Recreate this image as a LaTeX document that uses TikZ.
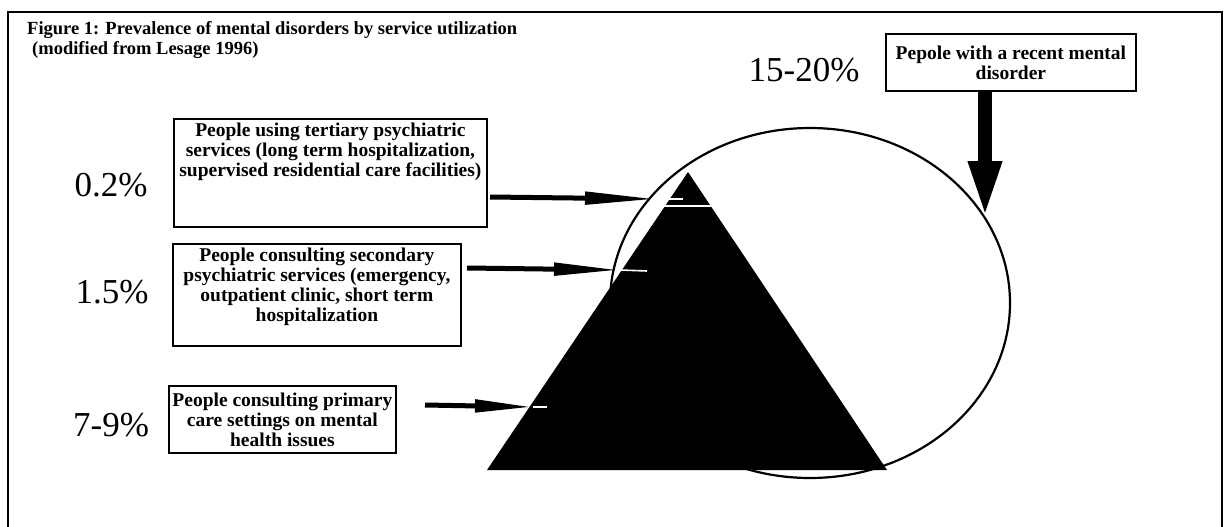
\documentclass[tikz,border=0pt]{standalone}
\usepackage{fontspec}
\setmainfont{Liberation Serif}
\usetikzlibrary{arrows.meta,shapes.geometric}
\begin{document}
\begin{tikzpicture}[x=1pt,y=-1pt,
  box/.style={draw, line width=1.8pt, rectangle, inner sep=0pt},
  boxtext/.style={align=center, inner sep=0pt,
    font=\fontsize{19.5}{20}\selectfont\bfseries},
  pct/.style={inner sep=0pt, font=\fontsize{35}{40}\selectfont},
  titletext/.style={anchor=base west, inner sep=0pt,
    font=\fontsize{18.5}{22}\selectfont\bfseries},
  pointer/.style={line width=5pt, line cap=butt},
  gapline/.style={white, line width=1.6pt},
]
\useasboundingbox (0,0) rectangle (1226,527);
\clip (0,0) rectangle (1226,527);

% outer frame (open at the bottom)
\draw[line width=2pt] (8,560) -- (8,12) -- (1222,12) -- (1222,560);

% heading
\node[titletext] (title1) at (27,35)
  {Figure 1: Prevalence of mental disorders by service utilization};
\node[titletext] (title2) at (32,55) {(modified from Lesage 1996)};

% population circle
\node[ellipse, draw, line width=2.2pt, inner sep=0pt,
      minimum width=400pt, minimum height=350pt] (pool) at (810,303) {};

% service pyramid
\fill (688,172) -- (887,470) -- (487,470) -- cycle;
\draw[gapline, line width=2.4pt] (660,206) -- (716,206);

% arrow end points
\coordinate (s1) at (490,197);  \coordinate (t1) at (657,199);
\coordinate (s2) at (467,268);  \coordinate (t2) at (620,270);
\coordinate (s3) at (425,405);  \coordinate (t3) at (533,407);
\coordinate (s4) at (985,90);   \coordinate (t4) at (985,219);

% thin traces of the pointers inside the pyramid
\draw[gapline] (t1) -- (683,199);
\draw[gapline] (t2) -- (647,271);
\draw[gapline] (t3) -- (547,407);

% label boxes
\node[box, anchor=north west, minimum width=313pt, minimum height=108pt]
  (b1) at (173,118) {};
\node[boxtext, anchor=north] (b1t) at ([yshift=-5pt]b1.north)
  {People using tertiary psychiatric\\services (long term hospitalization,\\supervised residential care facilities)};

\node[box, anchor=north west, minimum width=288pt, minimum height=102pt]
  (b2) at (172,243) {};
\node[boxtext, anchor=north] (b2t) at ([yshift=-5pt]b2.north)
  {People consulting secondary\\psychiatric services (emergency,\\outpatient clinic, short term\\hospitalization};

\node[box, anchor=north west, minimum width=227pt, minimum height=67pt]
  (b3) at (168,385) {};
\node[boxtext] (b3t) at (b3.center)
  {People consulting primary\\care settings on mental\\health issues};

\node[box, anchor=north west, minimum width=250pt, minimum height=57pt]
  (b4) at (885,33) {};
\node[boxtext] (b4t) at (b4.center) {Pepole with a recent mental\\disorder};

% pointers
\draw[pointer, -{Triangle[length=72pt,width=12pt]}] (s1) -- (t1);
\draw[pointer, -{Triangle[length=66pt,width=12pt]}] (s2) -- (t2);
\draw[pointer, -{Triangle[length=58pt,width=12pt]}] (s3) -- (t3);
\draw[line width=14pt, -{Triangle[length=58pt,width=30pt]}] (s4) -- (t4);

% prevalence figures
\node[pct] (p1) at (111,185) {0.2\%};
\node[pct] (p2) at (112,292) {1.5\%};
\node[pct] (p3) at (111,425) {7-9\%};
\node[pct] (p4) at (804,70) {15-20\%};
\end{tikzpicture}
\end{document}
